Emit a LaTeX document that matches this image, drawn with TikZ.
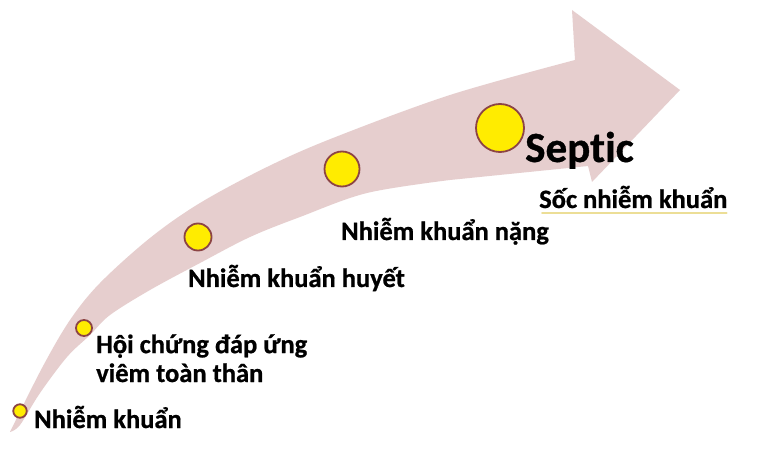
\documentclass[tikz,border=0pt]{standalone}
\usepackage{fontspec}
\setmainfont[Ligatures={NoCommon}, BoldFeatures={FakeBold=0.8}]{Carlito}
\definecolor{bandpink}{RGB}{230,206,206}
\definecolor{dotyellow}{RGB}{255,236,0}
\definecolor{dotrim}{RGB}{140,68,68}
\definecolor{ulyellow}{RGB}{236,222,150}
\begin{document}
\begin{tikzpicture}[x=1bp,y=-1bp,
  stage/.style={circle, fill=dotyellow, draw=dotrim, line width=1.8bp, inner sep=0pt, minimum size=#1},
  lbl/.style={anchor=base west, inner sep=0pt, font=\fontsize{26.6}{29}\selectfont\bfseries, text=black, align=left},
  biglbl/.style={anchor=base west, inner sep=0pt, font=\fontsize{43.2}{46}\selectfont\bfseries, text=black},
  uline/.style={draw=ulyellow, line width=2bp, line cap=round}
]
\fill[white] (0,0) rectangle (760,456);
\useasboundingbox (0,0) rectangle (760,456);

% curved arrow band
\fill[bandpink]
  plot[smooth, tension=0.55] coordinates {(10,432) (42,368) (70,320) (100,283) (150,238) (200,203) (267,167) (333,138) (450,95) (575,60)}
  -- (572,10) -- (680,90) -- (592,182) -- (588,166)
  -- plot[smooth, tension=0.55] coordinates {(450,180) (367,193) (300,217) (250,237) (200,263) (150,290) (110,315) (90,335) (67,357) (40,393) (20,425) (10,432)}
  -- cycle;

% stage dots
\node[stage=13.5bp] (c1) at (20,411) {};
\node[stage=16bp]   (c2) at (84,328) {};
\node[stage=27bp]   (c3) at (198,237) {};
\node[stage=35bp]   (c4) at (342,169) {};
\node[stage=48bp]   (c5) at (500,128) {};

% labels
\node[lbl] (t1) at (34,428) {Nhiễm khuẩn};
\node[lbl] (t2) at (96,382) {Hội chứng đáp ứng\\viêm toàn thân};
\node[lbl] (t3) at (188,287) {Nhiễm khuẩn huyết};
\node[lbl] (t4) at (341,240) {Nhiễm khuẩn nặng};
\node[biglbl] (t5) at (525,162) {Septic};
\node[lbl] (soc) at (539,208) {Sốc nhiễm khuẩn};
\draw[uline] ([yshift=-5bp,xshift=3bp]soc.base west) -- ([yshift=-5bp,xshift=-1bp]soc.base east);
\end{tikzpicture}
\end{document}
